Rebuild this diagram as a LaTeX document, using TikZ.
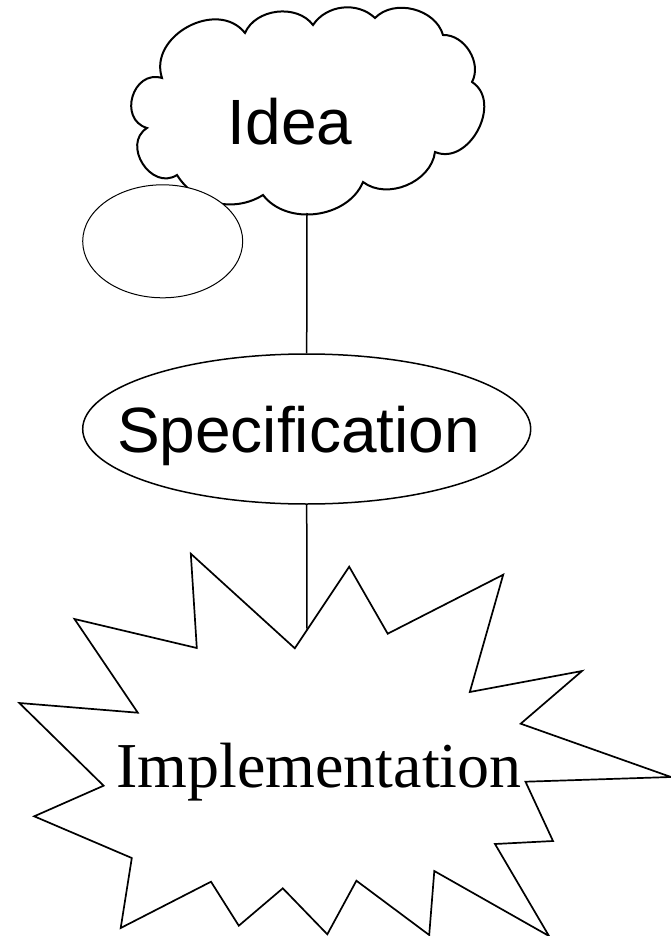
\documentclass[tikz,border=0pt]{standalone}
\usepackage{fontspec}
\setmainfont{Liberation Serif}
\setsansfont{Liberation Sans}
\usetikzlibrary{shapes.geometric}

\tikzset{
  outline/.style={draw=black, line width=1.7pt, line join=miter},
  thinoutline/.style={draw=black, line width=1pt},
  connector/.style={draw=black, line width=1.5pt},
  sanslabel/.style={font=\sffamily\fontsize{64}{70}\selectfont, inner sep=0pt, anchor=base},
  seriflabel/.style={font=\rmfamily\fontsize{64}{70}\selectfont, inner sep=0pt, anchor=base},
}

\begin{document}
\begin{tikzpicture}[x=1pt, y=-1pt]
  \useasboundingbox (0,0) rectangle (671,936);

  % cloud around "Idea"
  \draw[outline, line width=2pt, fill=white]
    (245,33) to[bend left=60] (313,25)
    to[bend left=50] (375,18)
    to[bend left=60] (443,35)
    to[bend left=60] (472,82)
    to[bend left=85, looseness=1.2] (435,152)
    to[bend left=60] (363,182)
    to[bend left=60] (263,195)
    to[bend left=45] (177,175)
    to[bend left=90, looseness=1.4] (147,128)
    to[bend left=90, looseness=1.5] (162,78)
    to[bend left=80, looseness=1.2] (245,33) -- cycle;
  \node[sanslabel] (idea) at (290,145) {Idea};
  \coordinate (ideaBottom) at (307,213);

  % small empty ellipse overlapping the cloud
  \node[ellipse, thinoutline, fill=white, minimum width=160pt, minimum height=113pt, inner sep=0pt]
    (note) at (162.7,241.3) {};

  % specification ellipse
  \node[ellipse, outline, line width=1.5pt, minimum width=448pt, minimum height=150pt, inner sep=0pt]
    (spec) at (306.7,429) {};
  \node[sanslabel] (specText) at (298.5,452) {Specification};

  % starburst around "Implementation"
  \draw[outline]
    (190.8,553.7) -- (294.8,648.3) -- (349.2,566.7) -- (387.7,633.7)
    -- (503.2,574.7) -- (469.8,692) -- (582,671) -- (520.7,723.7)
    -- (671,777) -- (525.5,781.7) -- (553,841) -- (495,844)
    -- (549,936) -- (434.3,871) -- (429.2,935) -- (356.4,880.7)
    -- (327.3,934.3) -- (282.8,888.3) -- (238.8,925.7) -- (211,881.7)
    -- (120.7,928) -- (131.8,858) -- (34.2,816.3) -- (103.6,785.7)
    -- (19.3,703) -- (137.8,712.7) -- (74.5,619) -- (196.8,648) -- cycle;
  \node[seriflabel] (impl) at (319,787.7) {Implementation};
  \coordinate (implTop) at (307,630);

  % connectors
  \draw[connector] (ideaBottom) -- (spec.north);
  \draw[connector] (spec.south) -- (implTop);
\end{tikzpicture}
\end{document}
